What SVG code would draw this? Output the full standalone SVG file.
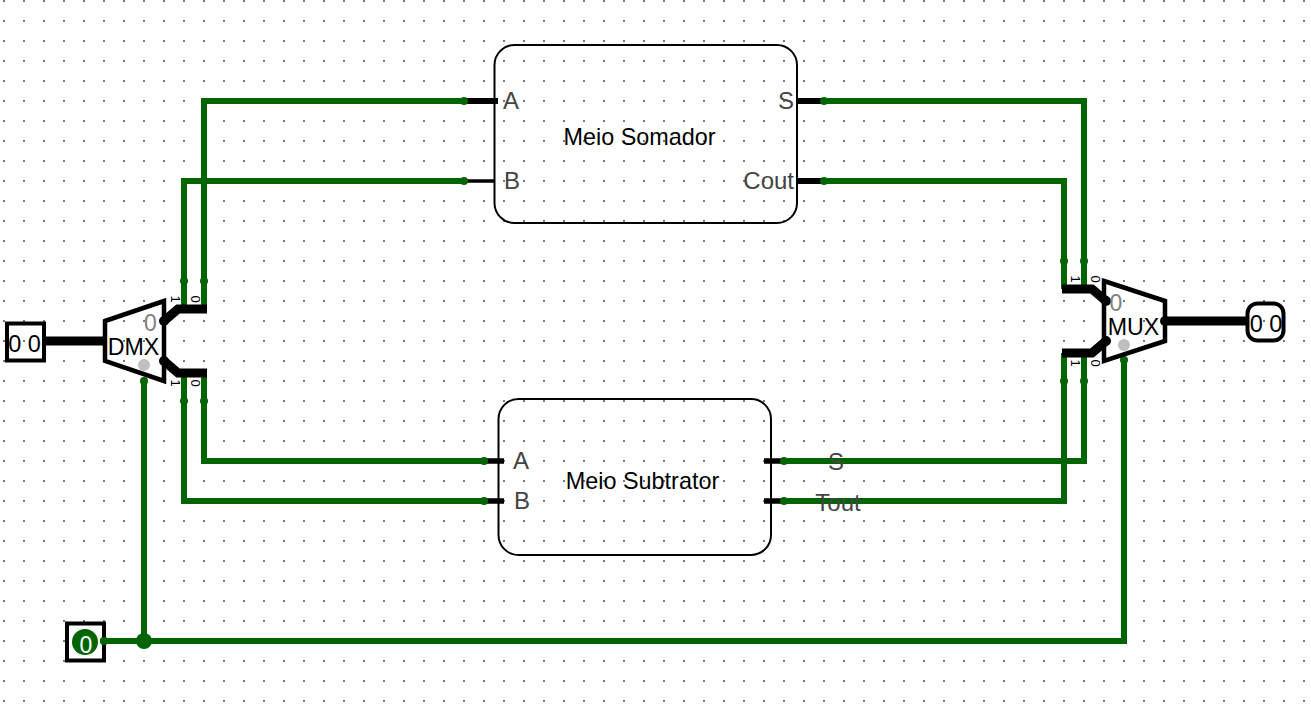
<svg xmlns="http://www.w3.org/2000/svg" width="1311" height="704" viewBox="0 0 1311 704">
<style>
text{font-family:"Liberation Sans",Arial,sans-serif}
.w{fill:none;stroke:#006400;stroke-width:6}
.b{fill:none;stroke:#000;stroke-width:9}
.p{fill:#006400}
.body{fill:none;stroke:#000;stroke-width:4.5;stroke-linejoin:miter}
.sub{fill:none;stroke:#000;stroke-width:2}
.t{font-size:23.4px;fill:#000;text-anchor:middle}
.m{font-size:23.2px;fill:#000;text-anchor:middle}
.l{font-size:24px;fill:#444}
.v{font-size:23.5px;fill:#000;text-anchor:middle}
.sel{font-size:23px;fill:#808080;text-anchor:middle}
.pin{font-size:13px;fill:#000;text-anchor:middle}
</style>
<defs>
<pattern id="g" x="3" y="0" width="20" height="20" patternUnits="userSpaceOnUse"><rect x="0" y="0" width="2" height="2" fill="#777"/></pattern>
</defs>
<rect width="1311" height="704" fill="#fff"/>
<rect width="1311" height="704" fill="url(#g)"/>
<g id="connectors">
<path class="w" d="M464 101H204V309M464 181H184V309M204 373V461H484M184 373V501H484"/>
<path class="w" d="M824 101H1084V289M824 181H1064V289M784 461H1084V353M784 501H1064V353"/>
<path class="w" d="M144 378V641M104 641H1124V360"/>
<g class="p">
<circle cx="144" cy="641" r="8"/><circle cx="104" cy="641" r="4"/>
<circle cx="144" cy="381" r="4"/><circle cx="1124" cy="360" r="4"/>
<circle cx="184" cy="281" r="4"/><circle cx="204" cy="281" r="4"/>
<circle cx="184" cy="401" r="4"/><circle cx="204" cy="401" r="4"/>
<circle cx="1064" cy="261" r="4"/><circle cx="1084" cy="261" r="4"/>
<circle cx="1064" cy="381" r="4"/><circle cx="1084" cy="381" r="4"/>
</g>
<path class="b" d="M44 341H105"/>
<path class="b" d="M1165 321H1247"/>
</g>
<g id="input-bus">
<rect x="7" y="323.5" width="37" height="37" fill="none" stroke="#000" stroke-width="4"/>
<text class="v" x="24.5" y="352">0 0</text>
</g>
<g id="input-sel">
<rect x="67" y="623.5" width="37" height="37" fill="none" stroke="#000" stroke-width="4"/>
<circle cx="85" cy="642" r="13" class="p"/>
<text x="86" y="653" font-size="23" fill="#fff" text-anchor="middle">0</text>
<circle cx="104" cy="641" r="4" class="p"/>
</g>
<g id="output-bus">
<rect x="1247.5" y="303.5" width="36" height="37" rx="10" fill="none" stroke="#000" stroke-width="4"/>
<text class="v" x="1266" y="332">0 0</text>
</g>
<g id="dmx">
<path class="b" d="M164 321L178 309H207M164 361L178 373H207"/>
<circle cx="164" cy="321" r="5"/><circle cx="164" cy="361" r="5"/>
<polygon class="body" points="105,321 164,301 164,381 105,361"/>
<text class="sel" x="150.5" y="331">0</text>
<text class="m" x="133.5" y="355">DMX</text>
<circle cx="144" cy="365" r="6" fill="#bfbfbf"/>
<text class="pin" transform="translate(170.5 299) rotate(90)">1</text>
<text class="pin" transform="translate(190.5 299) rotate(90)">0</text>
<text class="pin" transform="translate(170.5 383) rotate(90)">1</text>
<text class="pin" transform="translate(190.5 383) rotate(90)">0</text>
</g>
<g id="mux">
<path class="b" d="M1062 289H1092L1106 301M1062 353H1092L1106 341"/>
<circle cx="1106" cy="301" r="5"/><circle cx="1106" cy="341" r="5"/>
<circle cx="1165" cy="321" r="5"/>
<polygon class="body" points="1104,281 1165,301 1165,341 1104,361"/>
<text class="sel" x="1116" y="311">0</text>
<text class="m" x="1133.5" y="335">MUX</text>
<circle cx="1124" cy="345" r="6" fill="#bfbfbf"/>
<text class="pin" transform="translate(1070.5 279) rotate(90)">1</text>
<text class="pin" transform="translate(1090.5 279) rotate(90)">0</text>
<text class="pin" transform="translate(1070.5 363) rotate(90)">1</text>
<text class="pin" transform="translate(1090.5 363) rotate(90)">0</text>
</g>
<g id="meio-somador">
<rect class="sub" x="494.5" y="45" width="302.5" height="178" rx="20"/>
<path d="M464 101H498M797 101H824M797 181H824" stroke="#000" stroke-width="6" fill="none"/>
<path d="M464 181H494" stroke="#000" stroke-width="3.5" fill="none"/>
<circle cx="464" cy="101" r="4" class="p"/><circle cx="464" cy="181" r="4" class="p"/>
<circle cx="824" cy="101" r="4" class="p"/><circle cx="824" cy="181" r="4" class="p"/>
<text class="l" x="503" y="109">A</text>
<text class="l" x="504" y="189">B</text>
<text class="l" x="794" y="109" text-anchor="end">S</text>
<text class="l" x="794" y="189" text-anchor="end">Cout</text>
<text class="t" x="639.5" y="145">Meio Somador</text>
</g>
<g id="meio-subtrator">
<rect class="sub" x="498.5" y="399" width="272.5" height="156" rx="20"/>
<path d="M484 461H504M484 501H504M764 461H784M764 501H784" stroke="#000" stroke-width="5.5" fill="none"/>
<circle cx="484" cy="461" r="4" class="p"/><circle cx="484" cy="501" r="4" class="p"/>
<circle cx="784" cy="461" r="4" class="p"/><circle cx="784" cy="501" r="4" class="p"/>
<text class="l" x="513" y="469">A</text>
<text class="l" x="514" y="509">B</text>
<text class="l" x="836" y="470" text-anchor="middle">S</text>
<text class="l" x="838" y="511" text-anchor="middle">Tout</text>
<text class="t" x="642.5" y="489">Meio Subtrator</text>
</g>
</svg>
